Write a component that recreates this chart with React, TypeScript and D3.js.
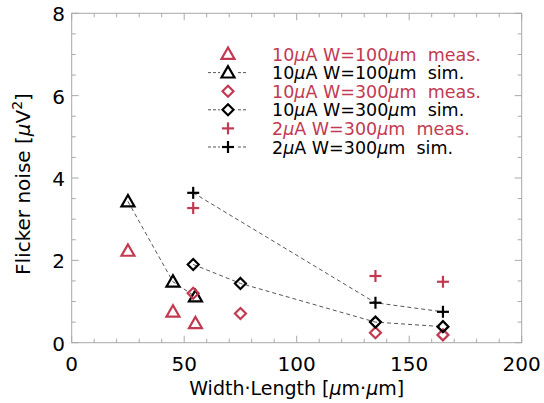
import React from "react";
import * as d3 from "d3";

const xValsA = [25, 45, 55];
const measA = [2.23, 0.75, 0.47]; // 10µA W=100µm meas
const simA = [3.43, 1.48, 1.12]; // 10µA W=100µm sim
const xValsB = [54, 75, 135, 165];
const measB = [1.2, 0.71, 0.24, 0.19]; // 10µA W=300µm meas
const simB = [1.9, 1.44, 0.5, 0.39]; // 10µA W=300µm sim
const xValsC = [54, 135, 165];
const measC = [3.27, 1.62, 1.48]; // 2µA W=300µm meas
const simC = [3.64, 0.97, 0.75]; // 2µA W=300µm sim
const xTicks = [0, 50, 100, 150, 200];
const yTicks = [0, 2, 4, 6, 8];
const legendLabels = [
  "10µA W=100µm  meas.",
  "10µA W=100µm  sim.",
  "10µA W=300µm  meas.",
  "10µA W=300µm  sim.",
  "2µA W=300µm  meas.",
  "2µA W=300µm  sim.",
];

const RED = "#c23a52";
const FONT = "'DejaVu Sans', Verdana, sans-serif";

type Shape = "tri" | "dia" | "plus";

function Marker({ shape, x, y, color }: { shape: Shape; x: number; y: number; color: string }) {
  if (shape === "tri") {
    const s = 6.5;
    const pts = `${x},${y - s} ${x - s},${y + s * 0.75} ${x + s},${y + s * 0.75}`;
    return <polygon points={pts} fill="none" stroke={color} strokeWidth={2.2} />;
  }
  if (shape === "dia") {
    const s = 5.5;
    const pts = `${x},${y - s} ${x + s},${y} ${x},${y + s} ${x - s},${y}`;
    return <polygon points={pts} fill="none" stroke={color} strokeWidth={2.2} />;
  }
  const s = 6;
  return (
    <g stroke={color} strokeWidth={2.2}>
      <line x1={x - s} x2={x + s} y1={y} y2={y} />
      <line x1={x} x2={x} y1={y - s} y2={y + s} />
    </g>
  );
}

function MuText({ s }: { s: string }) {
  const parts = s.split("µ");
  const out: React.ReactNode[] = [];
  parts.forEach((p, i) => {
    if (i > 0) out.push(<tspan key={"m" + i} fontStyle="italic">µ</tspan>);
    if (p) out.push(<tspan key={"p" + i} style={{ whiteSpace: "pre" }}>{p}</tspan>);
  });
  return <>{out}</>;
}

export default function App() {
  const W = 544, H = 403;
  const x0 = 71.7, x1 = 521.7, y0 = 342.7, y1 = 13.3;
  const x = d3.scaleLinear().domain([0, 200]).range([x0, x1]);
  const y = d3.scaleLinear().domain([0, 8]).range([y0, y1]);
  const line = d3.line<[number, number]>().x((d) => x(d[0])).y((d) => y(d[1]));

  const series: { xs: number[]; ys: number[]; shape: Shape; color: string; dashed: boolean }[] = [
    { xs: xValsA, ys: measA, shape: "tri", color: RED, dashed: false },
    { xs: xValsA, ys: simA, shape: "tri", color: "#000", dashed: true },
    { xs: xValsB, ys: measB, shape: "dia", color: RED, dashed: false },
    { xs: xValsB, ys: simB, shape: "dia", color: "#000", dashed: true },
    { xs: xValsC, ys: measC, shape: "plus", color: RED, dashed: false },
    { xs: xValsC, ys: simC, shape: "plus", color: "#000", dashed: true },
  ];

  const xMinor = d3.range(0, 201, 10);
  const yMinor = d3.range(0, 8.01, 0.5);
  const frame = "#a8a8a8";

  const legX = 228, legTextX = 272, legY0 = 54, legDy = 18.6;

  return (
    <svg width={W} height={H} style={{ position: "absolute", left: 0, top: 0, background: "#fff" }}>
      <rect x={0} y={0} width={W} height={H} fill="#fff" />
      <g stroke={frame} strokeWidth={1}>
        {xMinor.map((v) => {
          const len = v % 50 === 0 ? 7 : 4;
          return (
            <g key={"xt" + v}>
              <line x1={x(v)} x2={x(v)} y1={y0} y2={y0 - len} />
              <line x1={x(v)} x2={x(v)} y1={y1} y2={y1 + len} />
            </g>
          );
        })}
        {yMinor.map((v) => {
          const len = Math.abs(v % 2) < 1e-6 ? 7 : 4;
          return (
            <g key={"yt" + v}>
              <line x1={x0} x2={x0 + len} y1={y(v)} y2={y(v)} />
              <line x1={x1} x2={x1 - len} y1={y(v)} y2={y(v)} />
            </g>
          );
        })}
        <rect x={x0} y={y1} width={x1 - x0} height={y0 - y1} fill="none" />
      </g>
      <g fontFamily={FONT} fontSize={20} fill="#000">
        {xTicks.map((v) => (
          <text key={"xl" + v} x={x(v)} y={371} textAnchor="middle">{v}</text>
        ))}
        {yTicks.map((v) => (
          <text key={"yl" + v} x={65} y={y(v) + 8} textAnchor="end">{v}</text>
        ))}
      </g>
      <text x={(x0 + x1) / 2} y={395} textAnchor="middle" fontFamily={FONT} fontSize={19} fill="#000">
        <MuText s="Width·Length [µm·µm]" />
      </text>
      <text
        transform={`translate(30,${(y0 + y1) / 2 + 6}) rotate(-90)`}
        textAnchor="middle"
        fontFamily={FONT}
        fontSize={20}
        fill="#000"
      >
        Flicker noise [<tspan fontStyle="italic">µ</tspan>V<tspan dy={-8} fontSize={14}>2</tspan><tspan dy={8}>]</tspan>
      </text>
      {series.filter((s) => s.dashed).map((s, i) => (
        <path
          key={"l" + i}
          d={line(s.xs.map((v, j) => [v, s.ys[j]] as [number, number])) || ""}
          fill="none"
          stroke="#555"
          strokeWidth={1}
          strokeDasharray="4,3"
        />
      ))}
      {series.map((s, i) => (
        <g key={"m" + i}>
          {s.xs.map((v, j) => (
            <Marker key={j} shape={s.shape} x={x(v)} y={y(s.ys[j])} color={s.color} />
          ))}
        </g>
      ))}
      {series.map((s, i) => {
        const ly = legY0 + i * legDy;
        return (
          <g key={"lg" + i}>
            {s.dashed && (
              <line x1={legX - 20} x2={legX + 20} y1={ly} y2={ly} stroke="#555" strokeWidth={1} strokeDasharray="3,2" />
            )}
            {s.dashed && <rect x={legX - 8} y={ly - 8} width={16} height={16} fill="#fff" />}
            <Marker shape={s.shape} x={legX} y={ly} color={s.color} />
            <text x={legTextX} y={ly + 6.5} fontFamily={FONT} fontSize={17.5} fill={s.color}>
              <MuText s={legendLabels[i]} />
            </text>
          </g>
        );
      })}
    </svg>
  );
}
